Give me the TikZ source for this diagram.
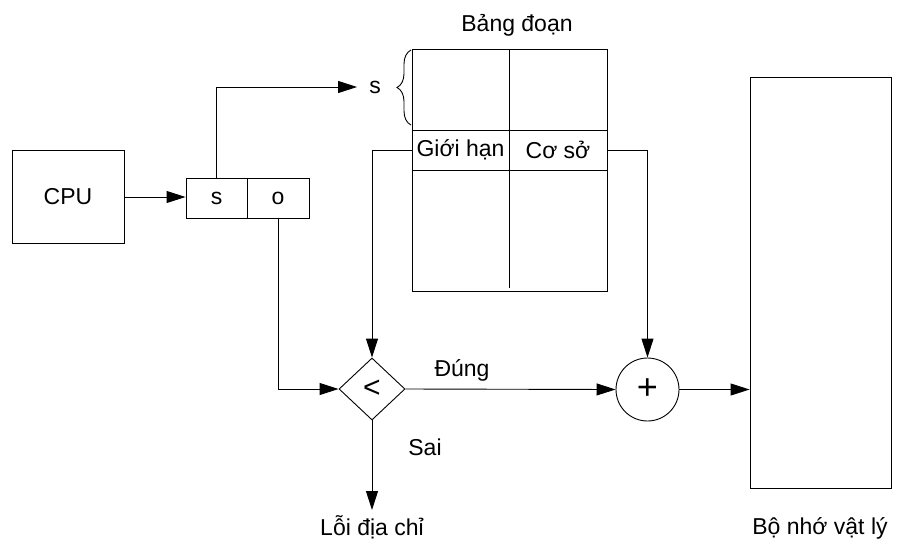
\documentclass[tikz,border=0pt]{standalone}
\usepackage{fontspec}
\setmainfont{Liberation Sans}
\usetikzlibrary{arrows.meta,shapes.geometric,decorations.pathreplacing}
\begin{document}
\begin{tikzpicture}[x=1pt,y=-1pt,
  every node/.style={font=\fontsize{23}{27}\selectfont},
  line/.style={draw=black,line width=0.9pt},
  arr/.style={line,-{Triangle[length=19pt,width=12pt]}},
  box/.style={line,rectangle,inner sep=0pt},
  lbl/.style={inner sep=0pt}]
\useasboundingbox (0,0) rectangle (899,541);
% nodes
\node[box,minimum width=112pt,minimum height=93pt] (cpu) at (68,197) {CPU};
\node[box,minimum width=61pt,minimum height=40pt] (sbox) at (216.5,198) {s};
\node[box,minimum width=62pt,minimum height=40pt] (obox) at (278,198) {o};
\node[box,minimum width=195pt,minimum height=242pt] (tab) at (509.5,170) {};
\node[lbl] (gioi) at (460.5,150) {Giới hạn};
\node[lbl] (coso) at (558,150) {Cơ sở};
\node[lbl] (title) at (517,25) {Bảng đoạn};
\node[lbl,inner xsep=12pt] (slab) at (375,87) {s};
\node[line,diamond,inner sep=0pt,minimum width=66pt,minimum height=62pt,font=\fontsize{30}{30}\selectfont] (dia) at (372,389) {<};
\node[line,circle,inner sep=0pt,minimum size=63pt,font=\fontsize{36}{36}\selectfont] (plus) at (647.5,389.5) {+};
\node[box,minimum width=141pt,minimum height=411pt] (mem) at (820.5,282.5) {};
\node[lbl] (dung) at (462,370) {Đúng};
\node[lbl] (sai) at (425,447) {Sai};
\node[lbl] (loi) at (372,527) {Lỗi địa chỉ};
\node[lbl] (memlbl) at (820,528) {Bộ nhớ vật lý};
\coordinate (loitip) at (372,510);
% table inner lines
\draw[line] (tab.west |- 0,130) -- (tab.east |- 0,130);
\draw[line] (tab.west |- 0,170) -- (tab.east |- 0,170);
\draw[line] (509,49) -- (509,288);
% brace
\draw[line,decorate,decoration={brace,amplitude=14pt}] (411,125) -- (411,50);
% connectors
\draw[arr] (cpu.east) -- (sbox.west |- cpu.east);
\draw[arr] (sbox.north) |- (slab.west);
\draw[arr] (tab.west |- gioi) -| (dia.north);
\draw[arr] (tab.east |- coso) -| (plus.north);
\draw[arr] (obox.south) |- (dia.west);
\draw[arr] (dia.east) -- (plus.west);
\draw[arr] (plus.east) -- (mem.west |- plus.east);
\draw[arr] (dia.south) -- (loitip);
\end{tikzpicture}
\end{document}
